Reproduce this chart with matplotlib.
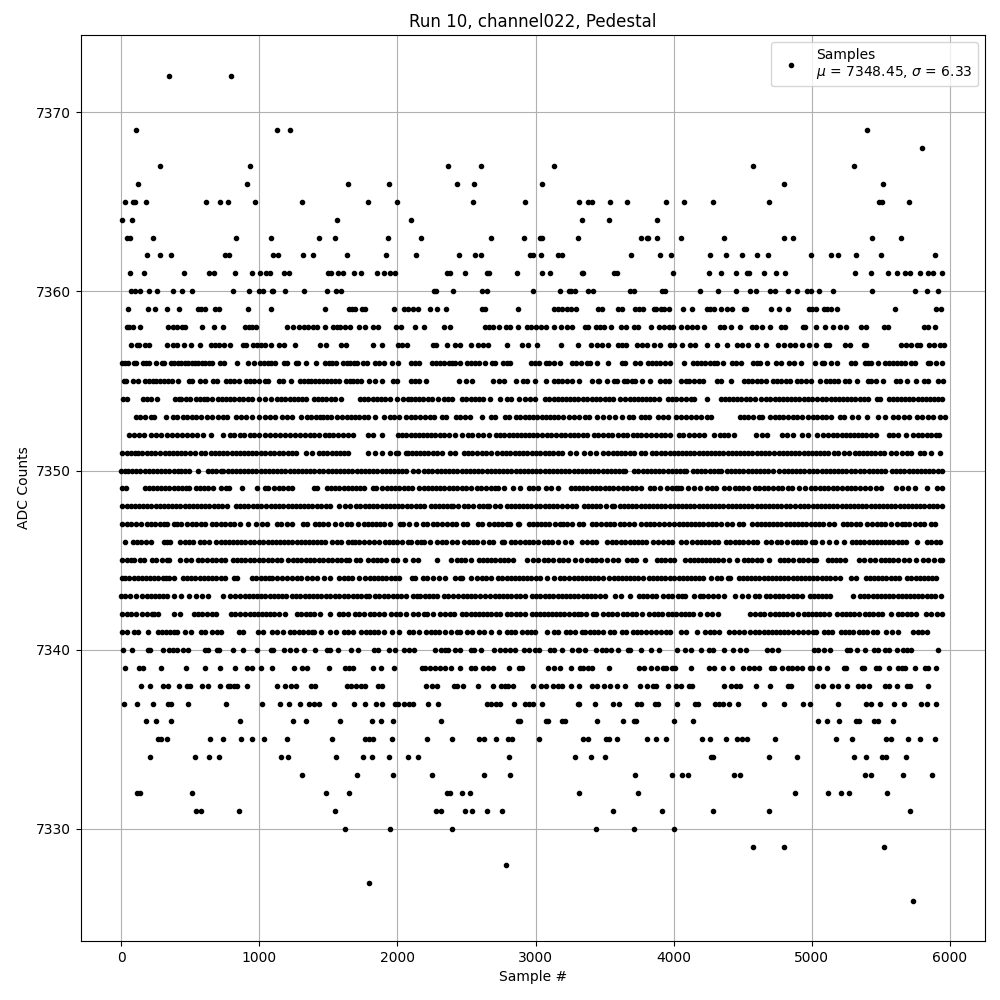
import matplotlib
matplotlib.use("Agg")
import matplotlib.pyplot as plt

s7372 = [346, 796]
s7369 = [106, 1130, 1225, 5400]
s7368 = [5798]
s7367 = [281, 934, 2364, 2606, 3130, 4576, 5306]
s7366 = [121, 912, 1646, 1936, 2430, 2553, 3050, 4800, 5516]
s7365 = [27, 85, 104, 179, 615, 716, 774, 970, 1312, 1784, 1994, 2546, 2923, 3318, 3376, 3412, 3542, 3665, 3947, 4077, 4287, 4692, 5487, 5508, 5704]
s7364 = [5, 77, 1566, 2096, 3333, 3528, 3882]
s7363 = [41, 65, 230, 832, 1087, 1435, 1551, 1929, 2168, 2677, 2916, 3034, 3050, 3304, 3766, 3803, 3817, 3882, 4056, 4366, 4800, 4865, 5436, 5646]
s7362 = [186, 281, 361, 753, 782, 1099, 1137, 1319, 1392, 1638, 1921, 2132, 2444, 2560, 2604, 2960, 2981, 3043, 3159, 3195, 3694, 3904, 3983, 4265, 4381, 4497, 4605, 4685, 4995, 5140, 5191, 5321, 5502, 5892]
s7361 = [63, 165, 455, 636, 673, 825, 949, 1007, 1050, 1079, 1181, 1217, 1500, 1522, 1573, 1609, 1689, 1740, 1856, 1900, 1943, 1980, 2357, 2379, 2488, 2647, 2662, 2865, 3050, 3108, 3333, 3347, 3571, 3593, 3998, 4258, 4345, 4453, 4533, 4547, 4656, 4743, 4808, 5314, 5429, 5552, 5617, 5675, 5711, 5784, 5841, 5878, 5943]
s7360 = [70, 99, 135, 200, 259, 375, 440, 513, 811, 927, 999, 1028, 1094, 1101, 1188, 1326, 1493, 1558, 1595, 2265, 2277, 2401, 2611, 2647, 2981, 3174, 3239, 3260, 3282, 3376, 3419, 3687, 3709, 3918, 3940, 4193, 4323, 4453, 4555, 4598, 4699, 4730, 4829, 4894, 4967, 4995, 5053, 5154, 5436, 5747, 5834, 5914]
s7359 = [48, 194, 244, 332, 419, 557, 578, 607, 680, 709, 920, 1087, 1479, 1653, 1675, 1696, 1747, 1769, 1972, 2045, 2074, 2110, 2147, 2234, 2284, 2350, 2611, 2633, 2873, 3130, 3159, 3188, 3224, 3260, 3296, 3455, 3484, 3600, 3629, 3723, 3752, 3781, 3860, 3875, 3911, 3932, 3969, 4070, 4135, 4244, 4265, 4294, 4345, 4388, 4424, 4511, 4525, 4706, 4764, 4829, 4981, 5003, 5032, 5089, 5111, 5140, 5183, 5603, 5899, 5935]
s7358 = [41, 60, 85, 135, 339, 375, 404, 440, 462, 586, 673, 738, 898, 927, 949, 978, 1198, 1246, 1290, 1326, 1355, 1392, 1421, 1479, 1537, 1566, 1588, 1624, 1660, 1725, 1769, 1827, 1863, 1987, 2023, 2125, 2190, 2335, 2384, 2633, 2662, 2691, 2735, 2785, 2815, 2873, 2938, 2967, 3000, 3036, 3072, 3137, 3181, 3231, 3267, 3361, 3383, 3434, 3470, 3499, 3549, 3622, 3651, 3716, 3745, 3839, 3897, 3932, 3969, 3998, 4056, 4099, 4135, 4171, 4222, 4338, 4366, 4417, 4482, 4569, 4598, 4641, 4699, 4779, 4807, 4938, 4952, 5032, 5097, 5154, 5205, 5249, 5357, 5393, 5523, 5552, 5812, 5841, 5892]
s7357 = [70, 114, 128, 172, 200, 332, 375, 404, 455, 506, 571, 651, 680, 709, 745, 789, 883, 905, 956, 985, 1014, 1043, 1087, 1145, 1181, 1261, 1442, 1486, 1595, 1631, 1827, 1885, 2001, 2030, 2067, 2255, 2277, 2357, 2415, 2451, 2531, 2582, 2618, 2654, 2793, 2902, 2945, 3014, 3181, 3304, 3398, 3448, 3484, 3521, 3600, 3629, 3658, 3737, 3774, 3810, 3860, 3904, 3976, 4005, 4063, 4121, 4157, 4244, 4316, 4388, 4460, 4497, 4540, 4605, 4670, 4757, 4800, 4843, 4880, 4930, 4981, 5032, 5104, 5126, 5241, 5277, 5379, 5393, 5646, 5682, 5718, 5762, 5784, 5848, 5885, 5928, 5957]
s7356 = [10, 30, 48, 94, 111, 162, 181, 200, 251, 299, 309, 362, 385, 410, 435, 460, 485, 510, 535, 560, 585, 610, 635, 659, 717, 744, 838, 922, 961, 1007, 1035, 1060, 1085, 1113, 1176, 1203, 1268, 1282, 1340, 1413, 1478, 1503, 1528, 1553, 1606, 1633, 1660, 1685, 1710, 1751, 1782, 1840, 1870, 1903, 1961, 2007, 2101, 2130, 2157, 2251, 2280, 2310, 2340, 2370, 2395, 2418, 2454, 2507, 2535, 2560, 2590, 2635, 2688, 2708, 2761, 2790, 2816, 2964, 2995, 3026, 3072, 3100, 3135, 3178, 3261, 3290, 3328, 3372, 3396, 3447, 3521, 3628, 3647, 3720, 3758, 3811, 3840, 3870, 3900, 3940, 3976, 4077, 4142, 4170, 4200, 4230, 4260, 4290, 4313, 4359, 4419, 4450, 4487, 4571, 4600, 4627, 4675, 4737, 4776, 4836, 4868, 4921, 5019, 5070, 5085, 5135, 5181, 5280, 5311, 5383, 5405, 5427, 5475, 5528, 5555, 5585, 5615, 5645, 5675, 5716, 5747, 5841, 5856, 5897, 5945]
s7355 = [19, 39, 85, 121, 174, 201, 228, 255, 282, 310, 340, 370, 411, 493, 514, 572, 611, 662, 695, 758, 785, 820, 850, 903, 935, 965, 997, 1043, 1063, 1145, 1174, 1232, 1294, 1322, 1350, 1378, 1406, 1434, 1462, 1490, 1520, 1550, 1577, 1628, 1655, 1682, 1708, 1734, 1797, 1838, 1888, 1968, 2000, 2101, 2130, 2160, 2205, 2447, 2493, 2539, 2695, 2735, 2773, 2855, 2910, 2937, 2995, 3075, 3135, 3165, 3195, 3230, 3263, 3318, 3405, 3449, 3459, 3519, 3567, 3590, 3637, 3665, 3695, 3722, 3773, 3826, 3903, 3935, 3966, 4053, 4089, 4110, 4145, 4180, 4212, 4311, 4342, 4412, 4508, 4540, 4570, 4600, 4635, 4667, 4720, 4750, 4780, 4810, 4843, 4889, 4920, 4960, 4993, 5056, 5099, 5130, 5160, 5188, 5243, 5270, 5330, 5403, 5430, 5465, 5513, 5612, 5639, 5685, 5757, 5810, 5840, 5914, 5952]
s7354 = [17, 45, 157, 185, 215, 260, 390, 418, 434, 470, 497, 540, 570, 600, 625, 655, 700, 730, 756, 790, 820, 850, 880, 920, 950, 1000, 1045, 1085, 1130, 1160, 1190, 1220, 1250, 1280, 1310, 1340, 1395, 1425, 1455, 1480, 1520, 1545, 1590, 1730, 1760, 1790, 1820, 1850, 1880, 1910, 1950, 2000, 2040, 2075, 2100, 2130, 2155, 2185, 2225, 2250, 2295, 2335, 2365, 2395, 2470, 2500, 2530, 2560, 2590, 2620, 2670, 2740, 2790, 2820, 2880, 2920, 2960, 2995, 3070, 3100, 3130, 3160, 3190, 3220, 3250, 3280, 3310, 3340, 3370, 3410, 3440, 3470, 3500, 3530, 3560, 3610, 3650, 3680, 3710, 3740, 3770, 3800, 3830, 3860, 3890, 3960, 3990, 4020, 4050, 4090, 4125, 4150, 4240, 4340, 4370, 4400, 4430, 4460, 4490, 4520, 4555, 4590, 4635, 4670, 4700, 4730, 4760, 4790, 4820, 4850, 4880, 4910, 4940, 4975, 5000, 5040, 5075, 5105, 5135, 5165, 5195, 5225, 5255, 5285, 5315, 5345, 5375, 5405, 5470, 5495, 5555, 5585, 5615, 5645, 5675, 5705, 5735, 5765, 5795, 5825, 5855, 5885, 5915, 5945]
s7353 = [108, 135, 175, 217, 240, 327, 374, 405, 445, 480, 512, 545, 580, 620, 660, 700, 735, 770, 830, 865, 905, 945, 1000, 1040, 1075, 1115, 1165, 1200, 1240, 1300, 1345, 1375, 1410, 1440, 1460, 1490, 1520, 1560, 1600, 1635, 1665, 1695, 1725, 1755, 1790, 1840, 1900, 1950, 1975, 2015, 2060, 2095, 2130, 2165, 2200, 2235, 2265, 2320, 2350, 2425, 2455, 2490, 2525, 2610, 2675, 2705, 2780, 2810, 2860, 2890, 2920, 2950, 2980, 3010, 3045, 3075, 3105, 3135, 3165, 3200, 3245, 3280, 3315, 3360, 3385, 3445, 3490, 3535, 3575, 3625, 3675, 3705, 3760, 3790, 3820, 3885, 3920, 3960, 4020, 4055, 4090, 4125, 4160, 4200, 4240, 4270, 4480, 4510, 4540, 4575, 4615, 4640, 4695, 4735, 4765, 4790, 4830, 4860, 4890, 4930, 4975, 5005, 5040, 5075, 5100, 5135, 5200, 5235, 5290, 5335, 5400, 5475, 5530, 5585, 5625, 5665, 5705, 5760, 5800, 5840, 5880, 5930, 5960]
s7352 = [55, 90, 130, 165, 215, 255, 290, 330, 370, 405, 440, 475, 510, 550, 590, 650, 735, 785, 815, 860, 890, 930, 960, 1000, 1040, 1080, 1115, 1150, 1185, 1225, 1260, 1295, 1330, 1365, 1400, 1435, 1475, 1505, 1535, 1570, 1605, 1640, 1680, 1790, 1825, 1885, 2005, 2035, 2065, 2095, 2125, 2155, 2185, 2215, 2245, 2275, 2305, 2340, 2375, 2415, 2470, 2510, 2540, 2580, 2620, 2665, 2715, 2745, 2775, 2805, 2835, 2865, 2895, 2925, 2955, 2985, 3010, 3050, 3080, 3110, 3145, 3185, 3210, 3250, 3280, 3310, 3345, 3375, 3420, 3450, 3490, 3525, 3555, 3595, 3630, 3665, 3705, 3735, 3765, 3800, 3835, 3870, 3905, 3940, 3975, 4040, 4070, 4110, 4145, 4180, 4220, 4290, 4335, 4365, 4395, 4435, 4595, 4640, 4675, 4785, 4820, 4860, 4930, 4975, 5040, 5080, 5115, 5150, 5185, 5215, 5245, 5275, 5305, 5335, 5365, 5395, 5430, 5465, 5555, 5590, 5625, 5680, 5730, 5765, 5795, 5830, 5865, 5900, 5920]
s7351 = [10, 40, 70, 100, 125, 155, 185, 215, 245, 285, 315, 345, 375, 405, 435, 465, 500, 535, 580, 610, 650, 680, 710, 740, 770, 800, 830, 860, 890, 920, 950, 980, 1010, 1040, 1080, 1110, 1145, 1175, 1205, 1235, 1265, 1340, 1385, 1430, 1460, 1490, 1525, 1555, 1585, 1615, 1640, 1785, 1840, 1890, 1950, 1990, 2005, 2060, 2075, 2105, 2135, 2165, 2195, 2225, 2255, 2285, 2325, 2380, 2420, 2480, 2510, 2540, 2575, 2610, 2640, 2680, 2720, 2755, 2785, 2815, 2850, 2880, 2910, 2940, 2975, 3005, 3035, 3065, 3095, 3125, 3165, 3195, 3250, 3295, 3350, 3395, 3440, 3490, 3525, 3560, 3590, 3620, 3650, 3680, 3710, 3760, 3790, 3845, 3875, 3910, 3940, 3970, 4000, 4030, 4060, 4090, 4120, 4150, 4180, 4210, 4240, 4270, 4300, 4330, 4360, 4390, 4420, 4450, 4480, 4510, 4540, 4570, 4600, 4630, 4660, 4690, 4725, 4760, 4790, 4820, 4850, 4880, 4910, 4940, 4970, 5000, 5030, 5060, 5090, 5120, 5160, 5190, 5230, 5270, 5310, 5340, 5370, 5400, 5430, 5460, 5490, 5520, 5570, 5610, 5650, 5690, 5720, 5780, 5815, 5865, 5925]
s7350 = [0, 25, 50, 80, 110, 140, 170, 200, 230, 260, 290, 320, 350, 380, 410, 435, 465, 490, 560, 630, 660, 690, 725, 740, 775, 800, 830, 860, 890, 920, 950, 980, 1010, 1040, 1070, 1100, 1130, 1160, 1190, 1220, 1250, 1280, 1310, 1340, 1370, 1400, 1430, 1460, 1495, 1525, 1555, 1585, 1615, 1645, 1675, 1705, 1735, 1765, 1795, 1825, 1855, 1885, 1915, 1945, 1975, 2005, 2035, 2065, 2110, 2150, 2190, 2220, 2250, 2285, 2315, 2345, 2375, 2405, 2435, 2465, 2495, 2525, 2555, 2585, 2615, 2645, 2675, 2705, 2735, 2765, 2795, 2825, 2855, 2885, 2915, 2945, 2975, 3005, 3035, 3065, 3095, 3125, 3155, 3185, 3215, 3245, 3275, 3305, 3335, 3365, 3395, 3425, 3455, 3485, 3515, 3545, 3575, 3605, 3635, 3650, 3710, 3745, 3775, 3805, 3835, 3865, 3895, 3925, 3955, 3985, 4015, 4045, 4075, 4090, 4140, 4170, 4200, 4230, 4260, 4290, 4320, 4345, 4385, 4415, 4445, 4475, 4505, 4535, 4565, 4595, 4625, 4655, 4685, 4715, 4760, 4795, 4825, 4855, 4885, 4915, 4945, 4980, 5010, 5040, 5070, 5100, 5130, 5160, 5190, 5220, 5250, 5280, 5310, 5350, 5380, 5410, 5440, 5470, 5500, 5530, 5580, 5610, 5640, 5670, 5700, 5730, 5760, 5790, 5820, 5850, 5880, 5910, 5940]
s7349 = [10, 38, 170, 200, 230, 260, 290, 320, 350, 380, 410, 440, 470, 490, 543, 570, 600, 630, 665, 720, 760, 783, 875, 985, 1045, 1063, 1110, 1145, 1175, 1205, 1240, 1395, 1420, 1490, 1520, 1550, 1580, 1610, 1640, 1670, 1700, 1730, 1760, 1820, 1845, 1890, 1925, 1955, 1985, 2015, 2045, 2075, 2105, 2160, 2190, 2220, 2250, 2280, 2310, 2340, 2370, 2400, 2430, 2470, 2500, 2530, 2575, 2605, 2640, 2680, 2710, 2730, 2770, 2835, 2885, 2950, 2985, 3020, 3075, 3110, 3160, 3255, 3285, 3315, 3345, 3375, 3405, 3435, 3470, 3500, 3530, 3560, 3595, 3630, 3665, 3700, 3730, 3765, 3830, 3860, 3900, 3950, 3985, 4020, 4030, 4055, 4100, 4145, 4190, 4240, 4275, 4305, 4365, 4400, 4440, 4470, 4500, 4540, 4585, 4620, 4650, 4680, 4720, 4755, 4785, 4830, 4855, 4905, 4950, 4995, 5025, 5060, 5090, 5120, 5150, 5185, 5215, 5255, 5285, 5315, 5350, 5385, 5420, 5465, 5500, 5610, 5650, 5695, 5745, 5830, 5905, 5945]
s7348 = [10, 40, 70, 100, 130, 160, 190, 220, 250, 280, 310, 340, 370, 400, 430, 460, 490, 520, 550, 580, 610, 640, 670, 700, 730, 770, 830, 860, 890, 920, 955, 985, 1015, 1050, 1085, 1115, 1145, 1175, 1205, 1235, 1265, 1295, 1325, 1355, 1385, 1420, 1450, 1480, 1515, 1575, 1620, 1660, 1700, 1730, 1765, 1795, 1825, 1855, 1885, 1915, 1945, 1975, 2005, 2035, 2070, 2100, 2135, 2165, 2190, 2240, 2270, 2300, 2330, 2360, 2390, 2405, 2440, 2480, 2510, 2545, 2590, 2620, 2650, 2665, 2705, 2745, 2790, 2820, 2850, 2880, 2910, 2940, 2970, 3000, 3035, 3065, 3095, 3125, 3155, 3190, 3230, 3265, 3295, 3350, 3380, 3410, 3440, 3470, 3510, 3550, 3570, 3610, 3640, 3670, 3700, 3730, 3760, 3790, 3820, 3850, 3880, 3910, 3940, 3970, 4000, 4030, 4060, 4090, 4120, 4150, 4180, 4210, 4240, 4270, 4300, 4330, 4360, 4390, 4420, 4450, 4480, 4510, 4540, 4570, 4600, 4630, 4660, 4690, 4720, 4750, 4780, 4810, 4840, 4880, 4915, 4945, 4975, 5005, 5035, 5065, 5095, 5125, 5155, 5185, 5215, 5245, 5275, 5305, 5335, 5365, 5395, 5425, 5455, 5485, 5515, 5545, 5575, 5605, 5635, 5665, 5695, 5725, 5755, 5785, 5815, 5845, 5875, 5905, 5940]
s7347 = [10, 40, 70, 105, 145, 185, 215, 245, 280, 310, 335, 380, 405, 435, 480, 510, 540, 580, 610, 660, 690, 720, 750, 785, 820, 860, 920, 975, 1020, 1055, 1130, 1160, 1200, 1235, 1315, 1345, 1405, 1435, 1465, 1495, 1545, 1590, 1635, 1665, 1715, 1755, 1785, 1815, 1845, 1875, 1905, 1945, 2020, 2040, 2085, 2135, 2185, 2215, 2255, 2290, 2325, 2360, 2395, 2425, 2475, 2505, 2580, 2615, 2665, 2700, 2730, 2760, 2790, 2815, 2875, 2880, 2955, 2985, 3010, 3040, 3070, 3095, 3140, 3175, 3200, 3230, 3265, 3315, 3345, 3410, 3440, 3475, 3510, 3540, 3570, 3610, 3640, 3675, 3710, 3760, 3800, 3825, 3860, 3895, 3930, 3965, 4005, 4035, 4065, 4095, 4125, 4155, 4185, 4215, 4245, 4275, 4305, 4340, 4385, 4425, 4470, 4500, 4570, 4600, 4630, 4660, 4690, 4720, 4750, 4780, 4810, 4840, 4870, 4900, 4930, 4960, 4990, 5020, 5050, 5080, 5125, 5160, 5225, 5255, 5285, 5320, 5350, 5400, 5435, 5470, 5500, 5530, 5570, 5615, 5650, 5675, 5705, 5745, 5785, 5815, 5860, 5890]
s7346 = [27, 85, 115, 145, 180, 215, 310, 335, 355, 430, 460, 490, 520, 570, 600, 635, 690, 720, 750, 780, 810, 840, 870, 900, 930, 965, 1000, 1030, 1060, 1090, 1120, 1150, 1180, 1210, 1240, 1270, 1300, 1330, 1360, 1390, 1420, 1450, 1475, 1525, 1560, 1590, 1640, 1670, 1695, 1720, 1755, 1795, 1830, 1870, 1910, 1940, 1970, 2000, 2030, 2075, 2100, 2140, 2170, 2195, 2235, 2285, 2325, 2350, 2395, 2435, 2480, 2515, 2545, 2575, 2620, 2660, 2690, 2755, 2775, 2820, 2850, 2885, 2920, 2950, 2985, 3020, 3060, 3090, 3120, 3165, 3215, 3255, 3335, 3370, 3405, 3435, 3520, 3550, 3580, 3620, 3650, 3680, 3710, 3740, 3770, 3800, 3850, 3885, 3925, 3955, 3990, 4050, 4090, 4135, 4165, 4195, 4225, 4255, 4290, 4320, 4375, 4410, 4440, 4470, 4500, 4535, 4575, 4605, 4670, 4705, 4750, 4780, 4820, 4860, 4890, 4920, 4950, 5000, 5025, 5075, 5125, 5175, 5235, 5290, 5320, 5350, 5380, 5410, 5440, 5470, 5500, 5530, 5560, 5590, 5620, 5650, 5680, 5760, 5835, 5865, 5895, 5930]
s7345 = [10, 40, 70, 95, 135, 165, 225, 255, 295, 330, 350, 425, 470, 505, 555, 585, 625, 660, 690, 720, 750, 810, 840, 870, 900, 930, 965, 1000, 1030, 1060, 1090, 1125, 1160, 1210, 1245, 1275, 1305, 1335, 1365, 1395, 1430, 1460, 1500, 1530, 1560, 1590, 1625, 1650, 1700, 1730, 1790, 1820, 1850, 1880, 1915, 1970, 2000, 2055, 2115, 2150, 2290, 2390, 2430, 2460, 2490, 2530, 2590, 2620, 2650, 2680, 2710, 2740, 2770, 2800, 2840, 2935, 2985, 3020, 3060, 3090, 3125, 3170, 3200, 3235, 3285, 3330, 3375, 3410, 3440, 3475, 3515, 3560, 3600, 3665, 3695, 3725, 3790, 3880, 3910, 3940, 3970, 4005, 4085, 4115, 4145, 4175, 4205, 4235, 4265, 4295, 4320, 4360, 4400, 4460, 4510, 4540, 4570, 4600, 4635, 4690, 4770, 4800, 4830, 4865, 4905, 4935, 4975, 5005, 5030, 5115, 5145, 5175, 5205, 5240, 5340, 5380, 5420, 5460, 5500, 5530, 5560, 5590, 5625, 5670, 5700, 5750, 5805, 5840, 5885, 5925, 5945]
s7344 = [5, 30, 60, 90, 120, 150, 180, 210, 240, 270, 300, 325, 350, 380, 445, 475, 505, 535, 570, 600, 630, 660, 690, 725, 750, 815, 840, 950, 980, 1010, 1040, 1070, 1095, 1125, 1165, 1200, 1235, 1270, 1300, 1345, 1385, 1420, 1470, 1515, 1575, 1615, 1645, 1675, 1720, 1765, 1800, 1830, 1860, 1890, 1920, 1955, 1985, 2015, 2105, 2130, 2185, 2215, 2255, 2300, 2345, 2420, 2450, 2470, 2535, 2575, 2615, 2640, 2675, 2730, 2760, 2790, 2820, 2850, 2880, 2910, 2940, 2970, 3005, 3035, 3080, 3130, 3180, 3205, 3245, 3275, 3305, 3335, 3365, 3395, 3425, 3455, 3485, 3535, 3565, 3595, 3625, 3655, 3685, 3715, 3745, 3780, 3820, 3850, 3880, 3910, 3940, 3970, 4005, 4035, 4065, 4095, 4125, 4155, 4185, 4215, 4270, 4315, 4345, 4390, 4410, 4470, 4500, 4530, 4560, 4590, 4620, 4650, 4680, 4710, 4740, 4770, 4800, 4830, 4860, 4890, 4920, 4950, 4980, 5010, 5040, 5070, 5100, 5130, 5170, 5200, 5280, 5320, 5390, 5420, 5450, 5480, 5510, 5540, 5570, 5600, 5630, 5690, 5720, 5750, 5780, 5810, 5840, 5870, 5900]
s7343 = [0, 30, 65, 110, 155, 185, 215, 245, 275, 305, 335, 385, 435, 495, 540, 585, 630, 735, 785, 825, 860, 895, 925, 955, 985, 1015, 1045, 1075, 1105, 1135, 1165, 1195, 1235, 1265, 1295, 1330, 1360, 1390, 1420, 1450, 1480, 1510, 1545, 1580, 1610, 1640, 1680, 1710, 1740, 1770, 1795, 1840, 1870, 1900, 1930, 1965, 1995, 2025, 2060, 2110, 2140, 2165, 2200, 2230, 2260, 2290, 2335, 2365, 2400, 2440, 2475, 2505, 2535, 2565, 2595, 2635, 2670, 2705, 2735, 2765, 2795, 2825, 2855, 2885, 2925, 2975, 3005, 3035, 3065, 3095, 3125, 3160, 3190, 3220, 3250, 3280, 3310, 3340, 3370, 3400, 3430, 3470, 3500, 3575, 3620, 3680, 3750, 3780, 3810, 3840, 3870, 3920, 3955, 3990, 4030, 4060, 4085, 4150, 4190, 4215, 4250, 4285, 4320, 4365, 4445, 4495, 4540, 4585, 4620, 4670, 4700, 4730, 4765, 4790, 4830, 4860, 4895, 4925, 4985, 5015, 5045, 5075, 5105, 5130, 5300, 5345, 5375, 5405, 5440, 5470, 5500, 5530, 5560, 5590, 5620, 5650, 5680, 5710, 5740, 5770, 5800, 5830, 5860, 5890, 5935]
s7342 = [5, 40, 75, 110, 150, 185, 225, 240, 265, 385, 430, 525, 555, 585, 625, 660, 690, 795, 825, 860, 895, 930, 960, 990, 1020, 1050, 1080, 1110, 1145, 1190, 1275, 1305, 1335, 1365, 1400, 1440, 1510, 1575, 1605, 1640, 1695, 1725, 1760, 1800, 1830, 1870, 1900, 1955, 1990, 2020, 2065, 2110, 2150, 2190, 2215, 2260, 2305, 2345, 2380, 2410, 2470, 2500, 2530, 2560, 2590, 2620, 2650, 2680, 2715, 2745, 2790, 2820, 2860, 2885, 2925, 2975, 3000, 3030, 3060, 3090, 3120, 3150, 3180, 3205, 3245, 3275, 3305, 3330, 3365, 3415, 3440, 3490, 3525, 3555, 3590, 3630, 3665, 3700, 3730, 3770, 3820, 3855, 3885, 3915, 3960, 3990, 4020, 4050, 4080, 4110, 4140, 4190, 4240, 4280, 4320, 4550, 4590, 4625, 4655, 4695, 4730, 4760, 4790, 4820, 4855, 4900, 4940, 4975, 5000, 5030, 5060, 5090, 5125, 5180, 5215, 5245, 5275, 5305, 5340, 5385, 5415, 5445, 5480, 5510, 5570, 5620, 5655, 5685, 5715, 5755, 5825, 5860, 5905, 5945]
s7341 = [10, 45, 95, 125, 195, 265, 295, 325, 355, 385, 403, 465, 505, 575, 605, 655, 695, 720, 850, 880, 990, 1030, 1090, 1125, 1170, 1225, 1255, 1285, 1315, 1350, 1380, 1395, 1450, 1510, 1555, 1615, 1645, 1680, 1740, 1770, 1800, 1830, 1860, 1905, 1960, 2015, 2085, 2115, 2155, 2205, 2240, 2270, 2300, 2345, 2385, 2435, 2455, 2505, 2540, 2590, 2625, 2675, 2735, 2790, 2820, 2850, 2900, 2940, 2970, 2995, 3085, 3130, 3165, 3220, 3250, 3285, 3335, 3360, 3395, 3425, 3455, 3490, 3540, 3570, 3625, 3655, 3705, 3735, 3765, 3800, 3835, 3870, 3910, 3945, 3975, 4050, 4090, 4170, 4225, 4260, 4295, 4330, 4400, 4435, 4470, 4510, 4550, 4585, 4620, 4650, 4680, 4710, 4740, 4770, 4800, 4830, 4865, 4900, 4935, 4975, 5005, 5030, 5085, 5115, 5145, 5210, 5240, 5270, 5300, 5340, 5370, 5400, 5440, 5470, 5540, 5580, 5620, 5735, 5770, 5795, 5830]
s7340 = [12, 77, 194, 208, 303, 346, 375, 404, 448, 484, 607, 629, 695, 709, 811, 883, 985, 1087, 1101, 1181, 1225, 1268, 1326, 1404, 1493, 1515, 1573, 1667, 1718, 1834, 1863, 1936, 1980, 2045, 2081, 2118, 2270, 2313, 2343, 2364, 2415, 2451, 2531, 2553, 2604, 2698, 2742, 2778, 2815, 2851, 2916, 2952, 2996, 3022, 3108, 3137, 3188, 3267, 3304, 3318, 3361, 3434, 3484, 3513, 3549, 3600, 3672, 3687, 3766, 3839, 3897, 4027, 4084, 4128, 4200, 4258, 4287, 4366, 4431, 4482, 4525, 4677, 4713, 4757, 5017, 5046, 5089, 5133, 5256, 5277, 5328, 5386, 5451, 5480, 5530, 5559, 5617, 5661, 5689, 5718, 5914]
s7339 = [27, 128, 157, 288, 469, 607, 716, 825, 912, 949, 1014, 1094, 1254, 1312, 1348, 1508, 1624, 1653, 1682, 1820, 1878, 1972, 2176, 2197, 2234, 2270, 2306, 2343, 2386, 2451, 2531, 2560, 2618, 2654, 2691, 2807, 2880, 2902, 3087, 3130, 3174, 3253, 3325, 3347, 3383, 3405, 3535, 3752, 3788, 3832, 3882, 3925, 3947, 3991, 4012, 4128, 4258, 4294, 4359, 4424, 4504, 4547, 4583, 4620, 4706, 4728, 4786, 4829, 4858, 4894, 4930, 4988, 5003, 5053, 5111, 5234, 5249, 5364, 5379, 5465, 5487, 5559, 5624, 5653, 5675, 5747, 5819, 5841, 5899]
s7338 = [143, 208, 303, 339, 419, 477, 499, 586, 629, 716, 774, 789, 818, 840, 912, 1130, 1188, 1232, 1268, 1377, 1406, 1638, 1667, 1704, 1740, 1769, 1863, 1892, 2205, 2248, 2284, 2408, 2430, 2473, 2582, 2691, 2749, 2778, 2800, 2838, 2981, 3036, 3072, 3123, 3159, 3188, 3253, 3311, 3412, 3448, 3499, 3542, 3593, 3644, 3759, 3803, 3853, 3875, 3962, 4020, 4056, 4114, 4135, 4366, 4417, 4453, 4482, 4598, 4699, 4829, 4851, 5039, 5082, 5147, 5191, 5256, 5335, 5371, 5415, 5530, 5559, 5617, 5689, 5711, 5841]
s7337 = [19, 114, 230, 339, 361, 484, 760, 1021, 1152, 1217, 1297, 1362, 1399, 1435, 1544, 1689, 1769, 1842, 1885, 1980, 2001, 2045, 2081, 2110, 2219, 2292, 2647, 2677, 2713, 2742, 2844, 2923, 2952, 2981, 3050, 3304, 3316, 3427, 3557, 3607, 3737, 3766, 3868, 3889, 4027, 4157, 4178, 4301, 4330, 4359, 4403, 4468, 4656, 4800, 4938, 4988, 5191, 5393, 5429, 5494, 5595, 5668, 5791, 5834, 5899]
s7336 = [179, 252, 361, 862, 1246, 1341, 1588, 1813, 1878, 1965, 2313, 2873, 2887, 3072, 3087, 3188, 3210, 3448, 3636, 3716, 3730, 4005, 4142, 5046, 5111, 5198, 5321, 5342, 5451, 5480, 5588]
s7335 = [266, 288, 334, 644, 738, 869, 949, 1036, 1203, 1529, 1762, 1791, 1827, 1958, 2212, 2393, 2589, 2626, 2713, 2800, 2829, 3025, 3347, 3376, 3513, 3535, 3586, 3803, 3875, 3947, 4207, 4265, 4381, 4460, 4497, 4533, 4735, 5176, 5292, 5538, 5574, 5697, 5784, 5892]
s7334 = [208, 535, 636, 709, 1159, 1210, 1558, 1754, 1813, 1936, 2074, 2147, 2807, 3282, 3398, 3506, 4272, 4287, 4692, 4894, 5306, 5393, 5508, 5538, 5682]
s7333 = [1312, 1711, 1965, 2248, 2626, 2815, 3723, 3991, 4063, 4106, 4439, 4482, 5386, 5429, 5661, 5870]
s7332 = [114, 138, 513, 1486, 1653, 2360, 2379, 2466, 2524, 3318, 3745, 4880, 5118, 5212, 5270, 5545]
s7331 = [542, 576, 854, 1551, 2277, 2313, 2488, 2539, 2647, 2756, 3564, 3918, 4287, 4692, 5711]
s7330 = [1624, 1943, 2393, 3441, 3709, 4005]
s7329 = [4576, 4800, 5523]
s7328 = [2785]
s7327 = [1791]
s7326 = [5733]

counts = [7372, 7369, 7368, 7367, 7366, 7365, 7364, 7363, 7362, 7361, 7360, 7359, 7358, 7357,
          7356, 7355, 7354, 7353, 7352, 7351, 7350, 7349, 7348, 7347, 7346, 7345, 7344, 7343,
          7342, 7341, 7340, 7339, 7338, 7337, 7336, 7335, 7334, 7333, 7332, 7331, 7330, 7329,
          7328, 7327, 7326]
samples_by_count = [s7372, s7369, s7368, s7367, s7366, s7365, s7364, s7363, s7362, s7361, s7360, s7359, s7358, s7357,
                    s7356, s7355, s7354, s7353, s7352, s7351, s7350, s7349, s7348, s7347, s7346, s7345, s7344, s7343,
                    s7342, s7341, s7340, s7339, s7338, s7337, s7336, s7335, s7334, s7333, s7332, s7331, s7330, s7329,
                    s7328, s7327, s7326]

x = []
y = []
for count, samples in zip(counts, samples_by_count):
    x.extend(samples)
    y.extend([count] * len(samples))

plt.figure(figsize=(10, 10))
plt.plot(x, y, "k.", label="Samples\n$\\mu$ = 7348.45, $\\sigma$ = 6.33")
plt.xlim(-290, 6253)
plt.ylim(7323.75, 7374.3)
plt.xlabel("Sample #")
plt.ylabel("ADC Counts")
plt.title("Run 10, channel022, Pedestal")
plt.grid(True)
plt.legend(loc="upper right")
plt.subplots_adjust(left=0.081, right=0.985, top=0.965, bottom=0.059)
plt.savefig("out.png", dpi=100)
